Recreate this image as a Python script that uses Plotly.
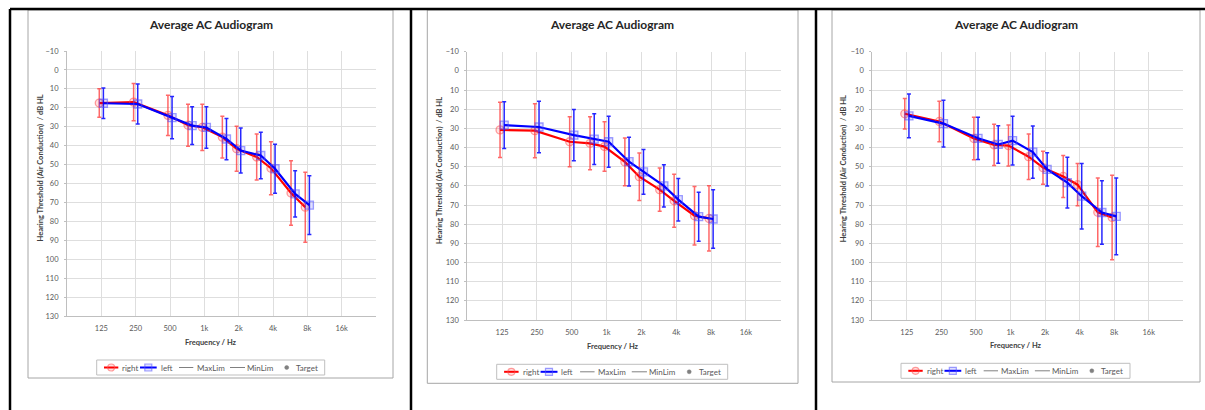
import math
import plotly.graph_objects as go

# ---------------- data ----------------
freqs = [125, 250, 500, 750, 1000, 1500, 2000, 3000, 4000, 6000, 8000]
tick_vals = [125, 250, 500, 1000, 2000, 4000, 8000, 16000, 32000]
tick_text = ["125", "250", "500", "1k", "2k", "4k", "8k", "16k", ""]
y_ticks = list(range(-10, 131, 10))
legend_names = ["right", "left", "MaxLim", "MinLim", "Target"]

p1_right = [17.5, 17.0, 24.0, 29.2, 30.3, 35.5, 41.6, 46.0, 51.9, 65.0, 72.5]
p1_right_sd = [7.5, 9.8, 10.6, 11.1, 12.2, 11.0, 11.9, 12.1, 14.0, 17.0, 18.5]
p1_left = [17.6, 18.0, 25.2, 29.4, 30.4, 36.5, 42.6, 45.2, 52.2, 65.5, 71.4]
p1_left_sd = [8.0, 10.6, 11.2, 10.0, 11.0, 10.9, 11.9, 12.3, 13.0, 12.2, 15.5]

p2_right = [30.8, 31.2, 37.0, 37.8, 39.5, 47.5, 55.2, 62.0, 67.8, 75.6, 77.0]
p2_right_sd = [14.4, 14.1, 13.0, 13.8, 12.9, 12.5, 12.4, 11.3, 13.8, 15.2, 17.0]
p2_left = [28.3, 29.3, 33.5, 35.6, 37.0, 47.4, 52.7, 60.0, 67.2, 76.1, 77.3]
p2_left_sd = [12.2, 13.4, 13.4, 13.2, 13.3, 12.7, 11.7, 11.0, 11.1, 12.8, 15.2]

p3_right = [22.4, 26.4, 35.3, 38.6, 39.0, 44.8, 50.5, 55.1, 59.4, 73.8, 76.5]
p3_right_sd = [8.0, 10.6, 11.1, 10.8, 10.7, 11.9, 8.6, 11.0, 11.0, 17.9, 22.0]
p3_left = [23.5, 27.5, 35.2, 38.4, 36.4, 42.4, 51.4, 58.3, 65.4, 73.9, 75.9]
p3_left_sd = [11.4, 12.2, 11.0, 9.8, 12.7, 13.6, 8.7, 13.2, 17.1, 16.6, 20.0]

panels = [
    (p1_right, p1_right_sd, p1_left, p1_left_sd),
    (p2_right, p2_right_sd, p2_left, p2_left_sd),
    (p3_right, p3_right_sd, p3_left, p3_left_sd),
]

# ---------------- layout geometry (pixels) ----------------
W, H = 1205, 410
def px(x):
    return x / W
def py(y):
    return 1 - y / H

geo = [
    dict(plot=(67, 376, 51, 316), box=(28, 393, 10, 378), title=(210.5, 24),
         xt=(211, 342), yt=(40, 168.5), leg=(96.7, 360, 228, 15)),
    dict(plot=(467.3, 780.7, 51.7, 320), box=(427.3, 798, 10, 383.3), title=(612.3, 24),
         xt=(612.7, 346.7), yt=(439.3, 170.8), leg=(496.7, 364.3, 231, 15)),
    dict(plot=(872.3, 1183.3, 51.7, 320), box=(832, 1200, 10, 382), title=(1015.7, 24),
         xt=(1016.3, 345.3), yt=(844.3, 169), leg=(901, 363.3, 229, 15)),
]

FONT = "Lato"
RED = "rgb(255,0,0)"
BLUE = "rgb(0,0,255)"
RED_MK = "rgba(255,80,80,0.55)"
BLUE_MK = "rgba(80,80,255,0.55)"
GRAY = "#808080"
shift = 2 ** 0.06

fig = go.Figure()
shapes = []
annotations = []
layout_axes = {}

def pshape(**kw):
    d = dict(xref="paper", yref="paper")
    d.update(kw)
    shapes.append(d)

def ptext(text, x, y, size, color, xanchor="center", angle=0):
    annotations.append(dict(text=text, xref="paper", yref="paper", x=px(x), y=py(y),
                            showarrow=False, xanchor=xanchor, yanchor="middle",
                            textangle=angle, font=dict(family=FONT, size=size, color=color)))

for i, (rv, rsd, lv, lsd) in enumerate(panels):
    n = "" if i == 0 else str(i + 1)
    xa, ya = "x" + n, "y" + n
    g = geo[i]
    x0, x1, y0, y1 = g["plot"]

    fig.add_trace(go.Scatter(
        x=[f / shift for f in freqs], y=rv, name=legend_names[0], mode="lines+markers",
        xaxis=xa, yaxis=ya, showlegend=False,
        line=dict(color=RED, width=2.2),
        marker=dict(symbol="circle", size=8, color="rgba(255,0,0,0.12)",
                    line=dict(color=RED_MK, width=1.3)),
        error_y=dict(type="data", array=rsd, visible=True,
                     color="rgba(255,40,40,0.7)", thickness=1.5, width=2),
    ))
    fig.add_trace(go.Scatter(
        x=[f * shift for f in freqs], y=lv, name=legend_names[1], mode="lines+markers",
        xaxis=xa, yaxis=ya, showlegend=False,
        line=dict(color=BLUE, width=2.2),
        marker=dict(symbol="square", size=8, color="rgba(0,0,255,0.12)",
                    line=dict(color=BLUE_MK, width=1.3)),
        error_y=dict(type="data", array=lsd, visible=True,
                     color="rgba(0,0,255,0.85)", thickness=1.5, width=2),
    ))

    layout_axes["xaxis" + n] = dict(
        type="log", domain=[px(x0), px(x1)], anchor=ya,
        range=[math.log10(62.5), math.log10(32000)],
        tickvals=tick_vals, ticktext=tick_text, showgrid=True, gridcolor="#dedede",
        gridwidth=1, showline=True, linecolor="#bfbfbf", linewidth=1,
        ticks="", tickfont=dict(family=FONT, size=7.5, color="#595959"),
        ticklabelstandoff=5, zeroline=False, fixedrange=True, automargin=False,
    )
    layout_axes["yaxis" + n] = dict(
        domain=[py(y1), py(y0)], anchor=xa, range=[130, -10],
        tickvals=y_ticks, showgrid=True, gridcolor="#dedede", gridwidth=1,
        showline=True, linecolor="#bfbfbf", linewidth=1, ticks="outside",
        ticklen=2, tickcolor="#bfbfbf",
        tickfont=dict(family=FONT, size=7.5, color="#595959"),
        ticklabelstandoff=4, zeroline=False, fixedrange=True, automargin=False,
    )

    # chart frame
    bx0, bx1, by0, by1 = g["box"]
    pshape(type="rect", x0=px(bx0), x1=px(bx1), y0=py(by1), y1=py(by0),
           line=dict(color="#a6a6a6", width=1), layer="below")
    ptext("<b>Average AC Audiogram</b>", g["title"][0], g["title"][1], 12, "#262626")
    ptext("<b>Frequency / Hz</b>", g["xt"][0], g["xt"][1], 7.5, "#404040")
    ptext("<b>Hearing Threshold (Air Conduction)  / dB HL</b>", g["yt"][0], g["yt"][1],
          7.5, "#404040", angle=-90)

    # legend box
    lx, ly, lw, lh = g["leg"]
    k = lw / 228.0
    cy = ly + lh / 2
    pshape(type="rect", x0=px(lx), x1=px(lx + lw), y0=py(ly + lh), y1=py(ly),
           line=dict(color="#bfbfbf", width=1), fillcolor="white")
    pshape(type="line", x0=px(lx + 7.3 * k), x1=px(lx + 21.6 * k), y0=py(cy), y1=py(cy),
           line=dict(color=RED, width=2))
    mx = lx + 14.5 * k
    pshape(type="circle", x0=px(mx - 3.5), x1=px(mx + 3.5), y0=py(cy + 3.5), y1=py(cy - 3.5),
           line=dict(color=RED_MK, width=1.2), fillcolor="rgba(255,0,0,0.12)")
    ptext(legend_names[0], lx + 23.5 * k, cy, 8, "#595959", xanchor="left")
    pshape(type="line", x0=px(lx + 43.3 * k), x1=px(lx + 60 * k), y0=py(cy), y1=py(cy),
           line=dict(color=BLUE, width=2))
    mx = lx + 51.6 * k
    pshape(type="rect", x0=px(mx - 3.5), x1=px(mx + 3.5), y0=py(cy + 3.5), y1=py(cy - 3.5),
           line=dict(color=BLUE_MK, width=1.2), fillcolor="rgba(0,0,255,0.12)")
    ptext(legend_names[1], lx + 61.8 * k, cy, 8, "#595959", xanchor="left")
    pshape(type="line", x0=px(lx + 82.3 * k), x1=px(lx + 96.6 * k), y0=py(cy), y1=py(cy),
           line=dict(color=GRAY, width=1))
    ptext(legend_names[2], lx + 97.8 * k, cy, 8, "#595959", xanchor="left")
    pshape(type="line", x0=px(lx + 133.3 * k), x1=px(lx + 148.3 * k), y0=py(cy), y1=py(cy),
           line=dict(color=GRAY, width=1))
    ptext(legend_names[3], lx + 148.6 * k, cy, 8, "#595959", xanchor="left")
    mx = lx + 190 * k
    pshape(type="circle", x0=px(mx - 2), x1=px(mx + 2), y0=py(cy + 2), y1=py(cy - 2),
           line=dict(color=GRAY, width=0.5), fillcolor=GRAY)
    ptext(legend_names[4], lx + 197.6 * k, cy, 8, "#595959", xanchor="left")

# black table borders
pshape(type="line", x0=px(10), x1=1, y0=py(9), y1=py(9), line=dict(color="black", width=2.5))
for xv in [10, 411, 816]:
    pshape(type="line", x0=px(xv), x1=px(xv), y0=py(9), y1=0,
           line=dict(color="black", width=2.5))

fig.update_layout(
    width=W, height=H, margin=dict(l=0, r=0, t=0, b=0, pad=0, autoexpand=False),
    paper_bgcolor="white", plot_bgcolor="white", showlegend=False,
    shapes=shapes, annotations=annotations, **layout_axes,
)

post = """
var de = document.documentElement, b = document.body;
de.style.margin='0'; de.style.padding='0'; de.style.overflow='hidden';
b.style.margin='0'; b.style.padding='0'; b.style.overflow='hidden';
"""
fig.write_html("out.html", config={"displayModeBar": False}, post_script=post)
